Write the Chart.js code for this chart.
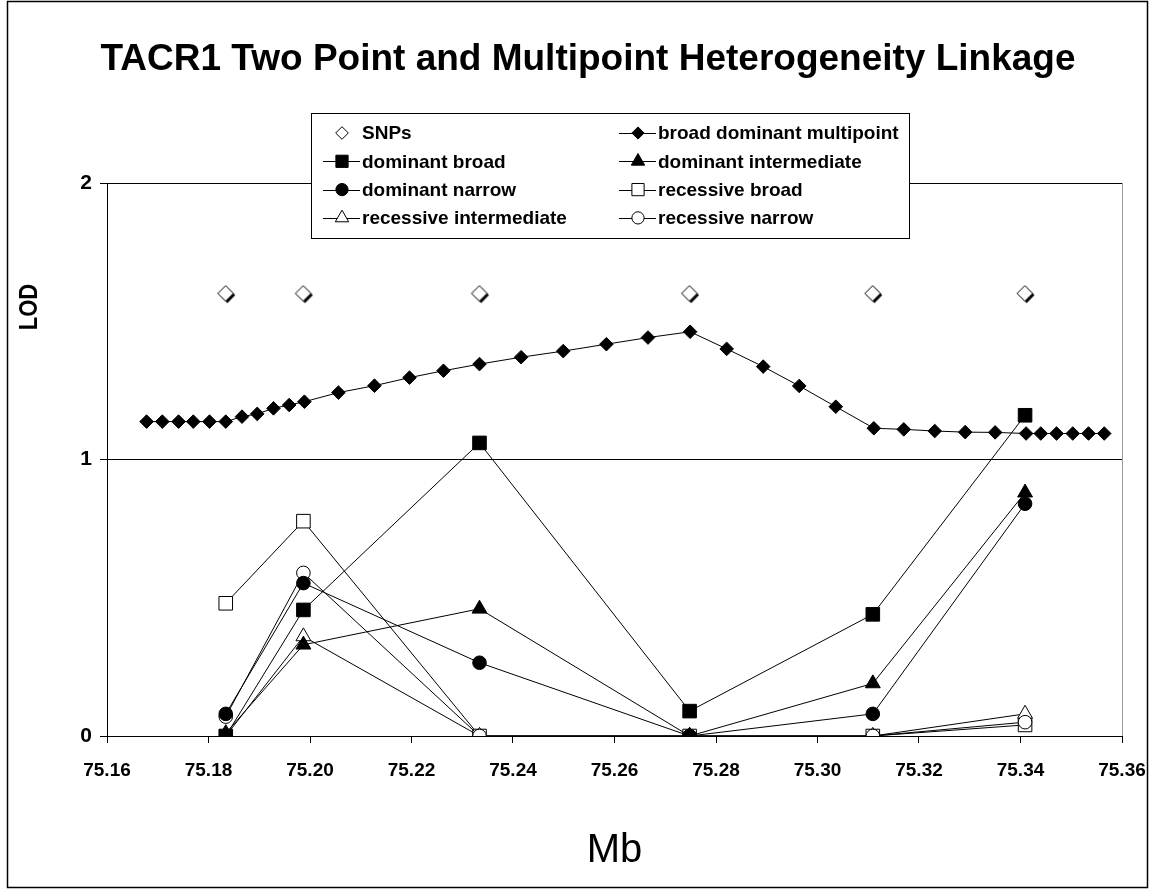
<!DOCTYPE html>
<html>
<head>
<meta charset="utf-8">
<title>TACR1 Two Point and Multipoint Heterogeneity Linkage</title>
<script src="https://cdn.jsdelivr.net/npm/chart.js@4.4.1/dist/chart.umd.min.js"></script>
<style>
    html, body { margin: 0; padding: 0; background: #fff; }
    #wrap { width: 1151px; height: 890px; }
</style>
</head>
<body>
<div id="wrap"><canvas id="lodChart" width="1151" height="890"></canvas></div>
<script>
// Axis ticks
const xTickLabels = ['75.16', '75.18', '75.20', '75.22', '75.24', '75.26', '75.28', '75.30', '75.32', '75.34', '75.36'];
const yTickLabels = ['0', '1', '2'];

// SNP positions (Mb) and the two point results at each SNP
const snpPos = [75.1834, 75.1987, 75.2334, 75.2748, 75.3109, 75.3409];
const snpLod = [1.6, 1.6, 1.6, 1.6, 1.6, 1.6];
const domBroad = [0, 0.456, 1.06, 0.09, 0.44, 1.16];
const domInter = [0.01, 0.33, 0.46, 0, 0.19, 0.88];
const domNarrow = [0.08, 0.553, 0.265, 0, 0.08, 0.84];
const recBroad = [0.48, 0.777, 0, 0, 0, 0.04];
const recInter = [0, 0.36, 0, 0, 0, 0.08];
const recNarrow = [0.07, 0.59, 0, 0, 0, 0.05];

// Multipoint scan
const multiPos = [75.1678, 75.1709, 75.1741, 75.1770, 75.1802, 75.1834, 75.1866, 75.1896, 75.1928, 75.1959,
    75.1989, 75.2056, 75.2127, 75.2196, 75.2263, 75.2334, 75.2416, 75.2499, 75.2584, 75.2666,
    75.2749, 75.2821, 75.2893, 75.2964, 75.3036, 75.3111, 75.3170, 75.3231, 75.3291, 75.3350,
    75.3411, 75.3440, 75.3471, 75.3503, 75.3534, 75.3565];
const multiLod = [1.137, 1.137, 1.137, 1.137, 1.137, 1.137, 1.155, 1.165, 1.185, 1.197,
    1.209, 1.242, 1.267, 1.296, 1.321, 1.345, 1.370, 1.392, 1.417, 1.441,
    1.462, 1.400, 1.336, 1.266, 1.191, 1.113, 1.109, 1.103, 1.099, 1.098,
    1.094, 1.094, 1.094, 1.094, 1.094, 1.094];

const FONT = '"Liberation Sans", Arial, Helvetica, sans-serif';
const pts = (xs, ys) => xs.map((x, i) => ({ x: x, y: ys[i] }));

// open diamond with a dark drop shadow, like the SNP markers
function makeSnpMarker() {
    const c = document.createElement('canvas');
    c.width = 22; c.height = 22;
    const g = c.getContext('2d');
    const diamond = (cx, cy, r) => {
        g.beginPath();
        g.moveTo(cx, cy - r); g.lineTo(cx + r, cy); g.lineTo(cx, cy + r); g.lineTo(cx - r, cy);
        g.closePath();
    };
    diamond(12.6, 12.6, 7.8);
    g.fillStyle = '#000'; g.fill();
    diamond(10.8, 10.8, 7.8);
    g.fillStyle = '#fff'; g.fill();
    g.lineWidth = 1; g.strokeStyle = '#000'; g.stroke();
    return c;
}

function series(label, data, style, radius, filled, order) {
    return {
        label: label,
        data: data,
        order: order,
        showLine: true,
        borderColor: '#000',
        borderWidth: 1,
        tension: 0,
        pointStyle: style,
        pointRadius: radius,
        pointHoverRadius: radius,
        pointBorderWidth: 1,
        pointBorderColor: '#000',
        pointBackgroundColor: filled ? '#000' : '#fff'
    };
}

const snpSet = series('SNPs', pts(snpPos, snpLod), makeSnpMarker(), 7, false, 8);
snpSet.showLine = false;
snpSet.legendStyle = 'rectRot';

const datasets = [
    snpSet,
    series('broad dominant multipoint', pts(multiPos, multiLod), 'rectRot', 6.8, true, 7),
    series('dominant broad', pts(snpPos, domBroad), 'rect', 9.6, true, 3),
    series('dominant intermediate', pts(snpPos, domInter), 'triangle', 8.6, true, 2),
    series('dominant narrow', pts(snpPos, domNarrow), 'circle', 6.8, true, 1),
    series('recessive broad', pts(snpPos, recBroad), 'rect', 9.6, false, 6),
    series('recessive intermediate', pts(snpPos, recInter), 'triangle', 8.6, false, 5),
    series('recessive narrow', pts(snpPos, recNarrow), 'circle', 6.8, false, 4)
];

// white page with the outer frame
const framePlugin = {
    id: 'frame',
    beforeDraw(chart) {
        const ctx = chart.ctx;
        ctx.save();
        ctx.fillStyle = '#fff';
        ctx.fillRect(0, 0, chart.width, chart.height);
        ctx.restore();
    },
    afterDraw(chart) {
        const ctx = chart.ctx;
        ctx.save();
        ctx.strokeStyle = '#000';
        ctx.lineWidth = 1.5;
        ctx.strokeRect(7.5, 1.5, 1140, 886);
        // y axis title sits high, as in the original
        ctx.translate(30, 307);
        ctx.rotate(-Math.PI / 2);
        ctx.scale(1, 1.15);
        ctx.font = 'bold 22px ' + FONT;
        ctx.fillStyle = '#000';
        ctx.textAlign = 'center';
        ctx.textBaseline = 'middle';
        ctx.fillText('LOD', 0, 0);
        ctx.restore();
    }
};

// two column legend box over the top gridline
const legendBox = {
    id: 'legendBox',
    afterDraw(chart) {
        const ctx = chart.ctx;
        const sets = chart.data.datasets;
        const cols = [{ mark: 342, text: 362 }, { mark: 638, text: 658 }];
        const rowY = i => 133 + i * 28.3;
        ctx.save();
        ctx.font = 'bold 19px ' + FONT;
        let w2 = 0;
        sets.forEach((d, i) => { if (i % 2 === 1) w2 = Math.max(w2, ctx.measureText(d.label).width); });
        const left = 311.5, top = 113.5, right = Math.round(cols[1].text + w2 + 10) + 0.5, bottom = 238.5;
        ctx.fillStyle = '#fff';
        ctx.fillRect(left, top, right - left, bottom - top);
        ctx.strokeStyle = '#000';
        ctx.lineWidth = 1;
        ctx.strokeRect(left, top, right - left, bottom - top);

        sets.forEach((d, i) => {
            const col = cols[i % 2];
            const y = rowY(Math.floor(i / 2));
            if (d.showLine) {
                ctx.beginPath();
                ctx.moveTo(col.mark - 19, Math.round(y) + 0.5);
                ctx.lineTo(col.mark + 18, Math.round(y) + 0.5);
                ctx.strokeStyle = '#000';
                ctx.lineWidth = 1;
                ctx.stroke();
            }
            ctx.fillStyle = d.pointBackgroundColor;
            ctx.strokeStyle = '#000';
            ctx.lineWidth = 1;
            const style = d.legendStyle || d.pointStyle;
            const r = d.pointRadius * 0.9;
            if (Chart.helpers && Chart.helpers.drawPoint) {
                Chart.helpers.drawPoint(ctx, { pointStyle: style, rotation: 0, radius: r, borderWidth: 1 }, col.mark, y);
            }
            ctx.fillStyle = '#000';
            ctx.textAlign = 'left';
            ctx.textBaseline = 'middle';
            ctx.fillText(d.label, col.text, y + 1);
        });
        ctx.restore();
    }
};

new Chart(document.getElementById('lodChart'), {
    type: 'line',
    data: { datasets: datasets },
    options: {
        responsive: false,
        devicePixelRatio: 1,
        animation: false,
        events: [],
        layout: { padding: { left: 54, right: 29, top: 0, bottom: 0 } },
        plugins: {
            legend: { display: false },
            tooltip: { enabled: false },
            title: {
                display: true,
                text: 'TACR1 Two Point and Multipoint Heterogeneity Linkage',
                color: '#000',
                font: { family: FONT, size: 37, weight: 'bold' },
                padding: { top: 37.8, bottom: 100.8 }
            }
        },
        scales: {
            x: {
                type: 'linear',
                min: 75.16,
                max: 75.36,
                afterBuildTicks: s => { s.ticks = xTickLabels.map(t => ({ value: Number(t) })); },
                afterFit: s => { s.height = 154; s.paddingLeft = 0; s.paddingRight = 0; },
                ticks: {
                    callback: (v, i) => xTickLabels[i],
                    color: '#000',
                    font: { family: FONT, size: 19, weight: 'bold' },
                    padding: 16,
                    maxRotation: 0,
                    autoSkip: false
                },
                grid: {
                    drawOnChartArea: true,
                    color: c => c.index === xTickLabels.length - 1 ? '#9a9a9a' : 'rgba(0,0,0,0)',
                    tickColor: '#000',
                    tickLength: 7,
                    lineWidth: 1
                },
                border: { color: '#000', width: 1 },
                title: {
                    display: true,
                    text: 'Mb',
                    color: '#000',
                    font: { family: FONT, size: 40 },
                    padding: { top: 0, bottom: 15 }
                }
            },
            y: {
                min: 0,
                max: 2,
                afterBuildTicks: s => { s.ticks = yTickLabels.map(t => ({ value: Number(t) })); },
                afterFit: s => { s.width = 53; },
                ticks: {
                    callback: (v, i) => yTickLabels[i],
                    color: '#000',
                    font: { family: FONT, size: 21, weight: 'bold' },
                    padding: 8
                },
                grid: { color: '#000', tickColor: '#000', tickLength: 7, lineWidth: 1 },
                border: { color: '#000', width: 1 }
            }
        }
    },
    plugins: [framePlugin, legendBox]
});
</script>
</body>
</html>
